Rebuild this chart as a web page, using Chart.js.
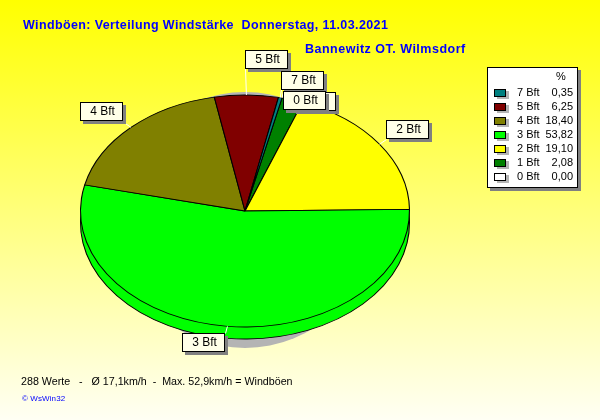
<!DOCTYPE html>
<html>
<head>
<meta charset="utf-8">
<style>html,body{margin:0;padding:0;background:#fff}canvas{display:block}</style>
<script src="https://cdn.jsdelivr.net/npm/chart.js@4"></script>
</head>
<body>
<canvas id="c" width="600" height="420"></canvas>
<script>
// Data, in the reference's legend order
const categories = ['7 Bft','5 Bft','4 Bft','3 Bft','2 Bft','1 Bft','0 Bft'];
const percents   = [0.35, 6.25, 18.40, 53.82, 19.10, 2.08, 0.00];
const colours    = ['#008080','#800000','#808000','#00FF00','#FFFF00','#008000','#FFFFFF'];
const titleText    = 'Windböen: Verteilung Windstärke  Donnerstag, 11.03.2021';
const subtitleText = 'Bannewitz OT. Wilmsdorf';
const footerText   = '288 Werte   -   Ø 17,1km/h  -  Max. 52,9km/h = Windböen';
const creditText   = '© WsWin32';
const percentHead  = '%';

// Layout
const RADIUS = 164.5, SQUASH = 116 / 164.5, RIM = 12;
const boxes = { // [left, top, anchorX, anchorY] in px; anchor is where the leader meets the box
  '1 Bft':[293,92,0,0], '0 Bft':[283,91,0,0], '7 Bft':[281,71,0,18],
  '5 Bft':[245,50,0,18], '4 Bft':[80,102,42,19], '3 Bft':[182,333,43,0], '2 Bft':[386,120,0,19]
};
const boxOrder = ['5 Bft','7 Bft','1 Bft','0 Bft','2 Bft','4 Bft','3 Bft'];
const FONT = '"Liberation Sans", Arial, sans-serif';

const ellipsePie = {
  id:'ellipsePie',
  beforeDraw(chart){
    const {ctx,width,height} = chart;
    const g = ctx.createLinearGradient(0,0,0,height);
    g.addColorStop(0,'#FFFF00'); g.addColorStop(1,'#FFFFF4');
    ctx.save(); ctx.fillStyle = g; ctx.fillRect(0,0,width,height); ctx.restore();
  },
  beforeDatasetsDraw(chart){
    const ctx = chart.ctx, arcs = chart.getDatasetMeta(0).data, a = arcs[0];
    const cx = a.x, cy = a.y;
    // soft grey cast shadow
    ctx.save();
    ctx.fillStyle = '#B4B4B4';
    ctx.beginPath();
    ctx.arc(cx, cy + 9, RADIUS * 0.778, 0, Math.PI * 2);
    ctx.fill();
    ctx.restore();
    // rim, then the top face
    ctx.save();
    ctx.translate(cx, cy + RIM); ctx.scale(1, SQUASH); ctx.translate(-cx, -cy);
    arcs.forEach(el => el.draw(ctx));
    ctx.restore();
    ctx.save();
    ctx.translate(cx, cy); ctx.scale(1, SQUASH); ctx.translate(-cx, -cy);
  },
  afterDatasetsDraw(chart){
    chart.ctx.restore();
  },
  afterDraw(chart){
    const ctx = chart.ctx, arcs = chart.getDatasetMeta(0).data;
    const names = chart.data.labels;
    ctx.save();
    ctx.textBaseline = 'middle';

    // leaders
    ctx.strokeStyle = '#FFFFFF'; ctx.lineWidth = 1;
    names.forEach((n,i) => {
      const el = arcs[i], b = boxes[n];
      const mid = (el.startAngle + el.endAngle) / 2;
      const px = el.x + RADIUS * Math.cos(mid), py = el.y + RADIUS * SQUASH * Math.sin(mid);
      ctx.beginPath(); ctx.moveTo(px,py); ctx.lineTo(b[0]+b[2]+0.5,b[1]+b[3]+0.5); ctx.stroke();
    });

    // label boxes
    ctx.font = '12px ' + FONT; ctx.textAlign = 'center';
    boxOrder.forEach(n => {
      const [x,y] = boxes[n], w = 43, h = 19;
      ctx.fillStyle = '#808080'; ctx.fillRect(x+3,y+3,w,h);
      ctx.fillStyle = '#FFFFE8'; ctx.fillRect(x,y,w,h);
      ctx.strokeStyle = '#000'; ctx.strokeRect(x+0.5,y+0.5,w-1,h-1);
      ctx.fillStyle = '#000'; ctx.fillText(n, x+w/2+1, y+h/2+0.5);
    });

    // legend box
    ctx.fillStyle = '#808080'; ctx.fillRect(490,70,91,121);
    ctx.fillStyle = '#FFFFFF'; ctx.fillRect(487,67,91,121);
    ctx.strokeStyle = '#000'; ctx.strokeRect(487.5,67.5,90,120);
    ctx.font = '11px ' + FONT;
    ctx.fillStyle = '#000'; ctx.textAlign = 'left';
    ctx.fillText(percentHead, 556, 77);
    categories.forEach((n,i) => {
      const y = 93 + i * 14;
      ctx.fillStyle = '#B4B4B4'; ctx.fillRect(497,y-2,12,8);
      ctx.fillStyle = colours[i]; ctx.fillRect(494,y-4,12,8);
      ctx.strokeStyle = '#000'; ctx.strokeRect(494.5,y-3.5,11,7);
      ctx.fillStyle = '#000';
      ctx.textAlign = 'left';  ctx.fillText(n, 517, y);
      ctx.textAlign = 'right'; ctx.fillText(percents[i].toFixed(2).replace('.',','), 573, y);
    });

    // titles and footer
    ctx.textAlign = 'left';
    ctx.fillStyle = '#0000FF';
    ctx.font = 'bold 12.5px ' + FONT;
    ctx.letterSpacing = '0.38px';
    ctx.fillText(titleText, 23, 25.5);
    ctx.letterSpacing = '0.5px';
    ctx.fillText(subtitleText, 305, 49.5);
    ctx.letterSpacing = '0px';
    ctx.fillStyle = '#000';
    ctx.font = '10.7px ' + FONT;
    ctx.fillText(footerText, 21, 382);
    ctx.fillStyle = '#0000FF';
    ctx.font = '8px ' + FONT;
    ctx.letterSpacing = '0.1px';
    ctx.fillText(creditText, 22, 398.5);
    ctx.restore();
  }
};

new Chart(document.getElementById('c'), {
  type:'pie',
  plugins:[ellipsePie],
  data:{
    labels:[...categories].reverse(),
    datasets:[{
      data:[...percents].reverse(),
      backgroundColor:[...colours].reverse(),
      borderColor:'#000000',
      borderWidth:1.1,
      clip:false
    }]
  },
  options:{
    responsive:false,
    devicePixelRatio:1,
    animation:false,
    radius:RADIUS,
    rotation:13,
    layout:{padding:{left:0,right:110,top:2,bottom:0}},
    plugins:{legend:{display:false},title:{display:false},tooltip:{enabled:false}}
  }
});
</script>
</body>
</html>
